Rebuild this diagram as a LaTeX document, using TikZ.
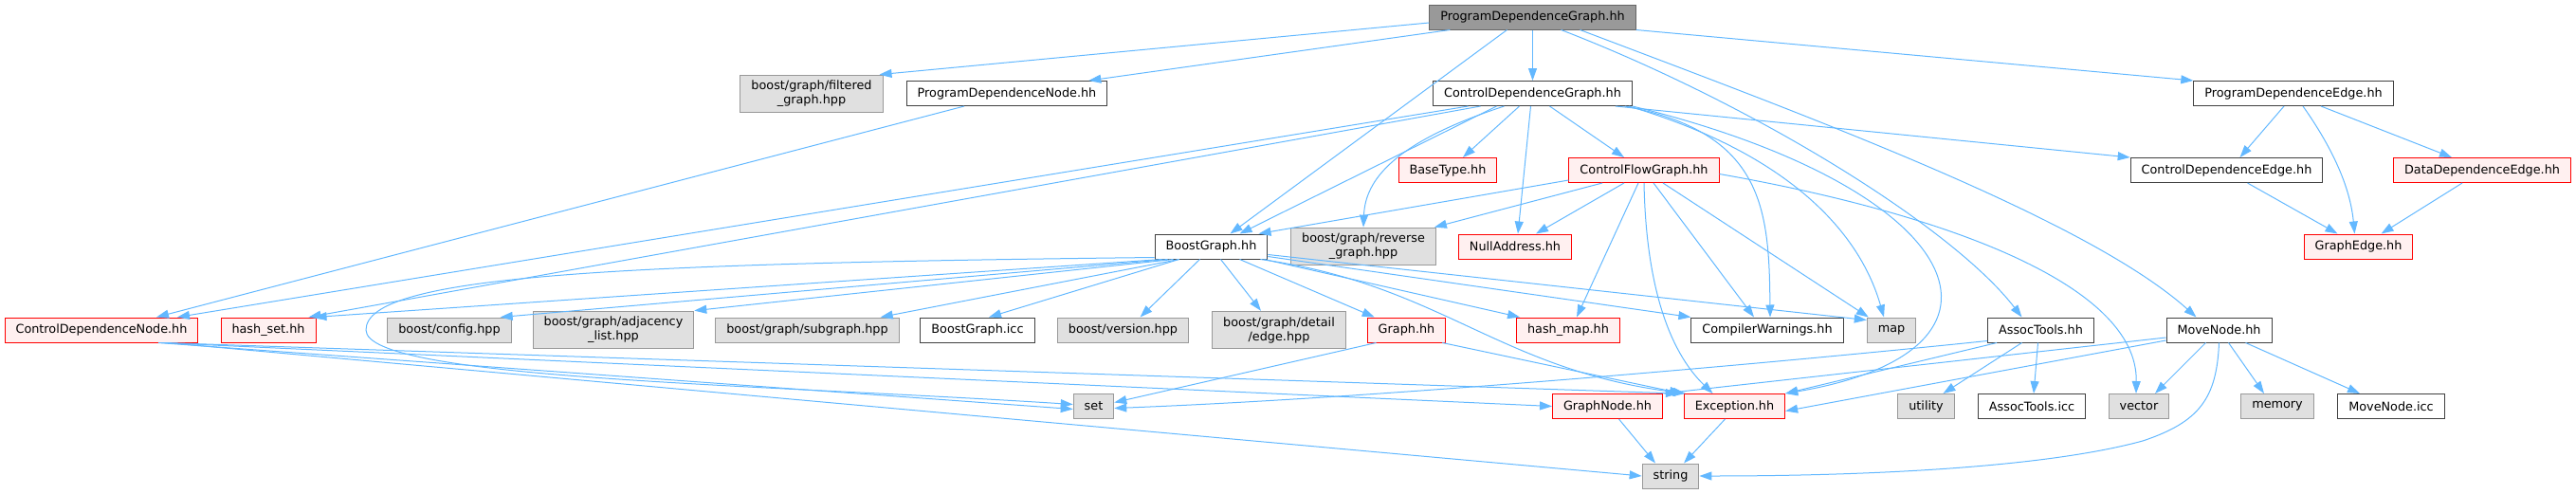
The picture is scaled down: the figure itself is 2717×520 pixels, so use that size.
\documentclass[tikz,border=0pt]{standalone}
\usepackage{fontspec}
\setmainfont{DejaVu Sans}
\usetikzlibrary{arrows.meta}
\definecolor{edgec}{HTML}{63B8FF}
\definecolor{sysfill}{HTML}{E0E0E0}
\definecolor{sysdraw}{HTML}{999999}
\definecolor{docdraw}{HTML}{404040}
\definecolor{incfill}{HTML}{FFF0F0}
\definecolor{rootfill}{HTML}{999999}
\definecolor{rootdraw}{HTML}{666666}
\begin{document}
\begin{tikzpicture}[x=1pt,y=-1pt,
  nd/.style={rectangle, line width=1pt, font=\fontsize{12.8}{15}\selectfont, inner xsep=11.5pt, inner ysep=6pt, minimum height=26pt, align=center, text=black},
  sys/.style={nd, fill=sysfill, draw=sysdraw},
  doc/.style={nd, fill=white, draw=docdraw},
  inc/.style={nd, fill=incfill, draw=red},
  root/.style={nd, fill=rootfill, draw=rootdraw},
  e/.style={draw=edgec, line width=1pt, -{Triangle[length=13pt,width=9pt]}},
]
\useasboundingbox (0,0) rectangle (2717,520);
% nodes
\node[root] (pdg) at (1616.5,18) {ProgramDependenceGraph.hh};
\node[sys] (filt) at (856,99) {boost/graph/filtered\\\_graph.hpp};
\node[doc] (pdn) at (1062,98.5) {ProgramDependenceNode.hh};
\node[doc] (cdg) at (1616.5,98.5) {ControlDependenceGraph.hh};
\node[doc] (pde) at (2419,98.5) {ProgramDependenceEdge.hh};
\node[inc] (base) at (1527,179.5) {BaseType.hh};
\node[inc] (cfg) at (1734,179.5) {ControlFlowGraph.hh};
\node[doc] (cde) at (2348.5,179.5) {ControlDependenceEdge.hh};
\node[inc] (dde) at (2618,179.5) {DataDependenceEdge.hh};
\node[doc] (bg) at (1277.5,260) {BoostGraph.hh};
\node[sys] (rev) at (1438,260) {boost/graph/reverse\\\_graph.hpp};
\node[inc] (null) at (1598,260) {NullAddress.hh};
\node[inc] (gedge) at (2487.5,260) {GraphEdge.hh};
\node[inc] (cdn) at (107,348) {ControlDependenceNode.hh};
\node[inc] (hset) at (283,348) {hash\_set.hh};
\node[sys] (conf) at (474,348) {boost/config.hpp};
\node[sys] (adj) at (647,348) {boost/graph/adjacency\\\_list.hpp};
\node[sys] (sub) at (851.5,348) {boost/graph/subgraph.hpp};
\node[doc] (icc) at (1031,348) {BoostGraph.icc};
\node[sys] (ver) at (1184.5,348) {boost/version.hpp};
\node[sys] (dedge) at (1349,348) {boost/graph/detail\\/edge.hpp};
\node[inc] (graph) at (1483.5,348) {Graph.hh};
\node[inc] (hmap) at (1654,348) {hash\_map.hh};
\node[doc] (cw) at (1864,348) {CompilerWarnings.hh};
\node[sys] (map) at (1995,348) {map};
\node[doc] (assoc) at (2152.5,348) {AssocTools.hh};
\node[doc] (move) at (2340.5,348) {MoveNode.hh};
\node[sys] (set) at (1153.5,428.5) {set};
\node[inc] (gnode) at (1695.5,428.5) {GraphNode.hh};
\node[inc] (exc) at (1829.5,428.5) {Exception.hh};
\node[sys] (util) at (2031.5,428.5) {utility};
\node[doc] (aicc) at (2143,428.5) {AssocTools.icc};
\node[sys] (vec) at (2256,428.5) {vector};
\node[sys] (mem) at (2402,428.5) {memory};
\node[doc] (micc) at (2522,428.5) {MoveNode.icc};
\node[sys] (str) at (1762,502) {string};
% ProgramDependenceGraph.hh
\draw[e] ([yshift=-6pt]pdg.west) -- ([xshift=-4pt]filt.north east);
\draw[e] ([xshift=22pt]pdg.south west) -- ([xshift=-20pt]pdn.north east);
\draw[e] (pdg) -- (cdg);
\draw[e] ([xshift=-27pt]pdg.south) -- ([xshift=20pt]bg.north);
\draw[e] ([xshift=30pt]pdg.south) .. controls (1850,110) and (2060,240) .. ([xshift=-20pt]assoc.north);
\draw[e] ([xshift=50pt]pdg.south) .. controls (1900,120) and (2200,230) .. ([xshift=-24pt]move.north);
\draw[e] (pdg.south east) -- (pde.north west);
% ProgramDependenceNode.hh
\draw[e] ([xshift=-45pt]pdn.south) -- ([xshift=58pt]cdn.north);
% ProgramDependenceEdge.hh and edges
\draw[e] ([xshift=-10pt]pde.south) -- ([xshift=14pt]cde.north);
\draw[e] ([xshift=10pt]pde.south) .. controls (2470,170) and (2480,210) .. ([xshift=-4pt]gedge.north);
\draw[e] ([xshift=29pt]pde.south) -- ([xshift=-32pt]dde.north);
\draw[e] ([xshift=22pt]cde.south) -- ([xshift=-22pt]gedge.north);
\draw[e] ([xshift=-21pt]dde.south) -- ([xshift=24pt]gedge.north);
% ControlDependenceGraph.hh
\draw[e] ([xshift=-68pt]cdg.south) -- ([xshift=80pt]cdn.north);
\draw[e] ([xshift=-55pt]cdg.south) -- ([xshift=-8pt]hset.north east);
\draw[e] ([xshift=-38pt]cdg.south) -- ([xshift=30pt]bg.north);
\draw[e] ([xshift=-30pt]cdg.south) .. controls (1470,150) and (1440,190) .. (rev.north);
\draw[e] ([xshift=-14pt]cdg.south) -- ([xshift=16pt]base.north);
\draw[e] ([xshift=-2pt]cdg.south) -- ([xshift=3pt]null.north);
\draw[e] ([xshift=18pt]cdg.south) -- ([xshift=-21pt]cfg.north);
\draw[e] ([xshift=-18pt]cdg.south east) -- (cde.north west);
\draw[e] ([xshift=-8pt]cdg.south east) .. controls (1860,140) and (1866,220) .. ([xshift=3pt]cw.north);
\draw[e] ([xshift=-4pt]cdg.south east) .. controls (1880,160) and (1960,240) .. ([xshift=-8pt]map.north);
\draw[e] (cdg.south east) .. controls (2080,200) and (2150,370) .. (exc.north east);
% ControlFlowGraph.hh
\draw[e] ([yshift=3pt]cfg.south west) -- ([xshift=50pt]bg.north);
\draw[e] ([xshift=-44pt]cfg.south) -- ([xshift=-2pt]rev.north east);
\draw[e] ([xshift=-21pt]cfg.south) -- ([xshift=22pt]null.north);
\draw[e] ([xshift=-6pt]cfg.south) -- ([xshift=9pt]hmap.north);
\draw[e] (cfg.south) .. controls (1736,300) and (1760,370) .. ([xshift=-23pt]exc.north);
\draw[e] ([xshift=10pt]cfg.south) -- ([xshift=-14pt]cw.north);
\draw[e] ([xshift=20pt]cfg.south) -- ([xshift=2pt]map.north west);
\draw[e] ([yshift=-4pt]cfg.east) .. controls (2050,225) and (2255,300) .. ([xshift=-3pt]vec.north);
% BoostGraph.hh
\draw[e] ([yshift=2pt]bg.south west) .. controls (650,278) and (386,290) .. (386,348) .. controls (386,400) and (800,405) .. ([yshift=2pt]set.west);
\draw[e] ([xshift=8pt]bg.south west) -- ([xshift=-2pt]hset.north east);
\draw[e] ([xshift=14pt]bg.south west) -- ([xshift=-12pt]conf.north east);
\draw[e] ([xshift=20pt]bg.south west) -- (adj.north east);
\draw[e] ([xshift=26pt]bg.south west) -- ([xshift=-20pt]sub.north east);
\draw[e] ([xshift=-34pt]bg.south) -- ([xshift=12pt]icc.north);
\draw[e] ([xshift=-12pt]bg.south) -- ([xshift=18pt]ver.north);
\draw[e] ([xshift=10pt]bg.south) -- ([xshift=-19pt]dedge.north);
\draw[e] ([xshift=30pt]bg.south) -- ([xshift=8pt]graph.north west);
\draw[e] ([xshift=-8pt]bg.south east) .. controls (1520,300) and (1580,390) .. ([xshift=2pt]exc.north west);
\draw[e] ([xshift=-4pt]bg.south east) -- ([xshift=4pt]hmap.north west);
\draw[e] ([yshift=3pt]bg.south east) -- (cw.north west);
\draw[e] ([yshift=5pt]bg.south east) -- ([yshift=-3pt]map.north west);
% Graph.hh
\draw[e] ([xshift=-32pt]graph.south) -- ([yshift=4pt]set.east);
\draw[e] ([xshift=-4pt]graph.south east) -- ([xshift=-2pt]exc.north west);
% ControlDependenceNode.hh
\draw[e] ([xshift=60pt]cdn.south) -- ([yshift=-3pt]set.west);
\draw[e] ([xshift=63pt]cdn.south) -- (gnode.west);
\draw[e] ([xshift=66pt]cdn.south) -- ([xshift=-6pt]exc.north west);
\draw[e] ([xshift=69pt]cdn.south) -- (str.west);
% AssocTools.hh
\draw[e] ([yshift=2pt]assoc.south west) .. controls (1850,385) and (1450,420) .. ([yshift=-2pt]set.east);
\draw[e] ([xshift=10pt]assoc.south west) -- (exc.north east);
\draw[e] ([xshift=-20pt]assoc.south) -- ([xshift=18pt]util.north);
\draw[e] ([xshift=-3pt]assoc.south) -- ([xshift=2pt]aicc.north);
% MoveNode.hh
\draw[e] ([yshift=-8pt]move.west) -- (gnode.north east);
\draw[e] ([yshift=-11pt]move.west) -- ([yshift=-5pt]exc.east);
\draw[e] ([xshift=-14pt]move.south) -- ([xshift=17pt]vec.north);
\draw[e] ([xshift=10pt]move.south) -- ([xshift=-14pt]mem.north);
\draw[e] ([xshift=28pt]move.south) -- ([xshift=-33pt]micc.north);
\draw[e] (move.south) .. controls (2338,420) and (2320,445) .. (2260,465) .. controls (2150,495) and (1950,502) .. (str.east);
% GraphNode.hh, Exception.hh
\draw[e] ([xshift=12pt]gnode.south) -- ([xshift=-16pt]str.north);
\draw[e] ([xshift=-10pt]exc.south) -- ([xshift=14pt]str.north);
\end{tikzpicture}
\end{document}
